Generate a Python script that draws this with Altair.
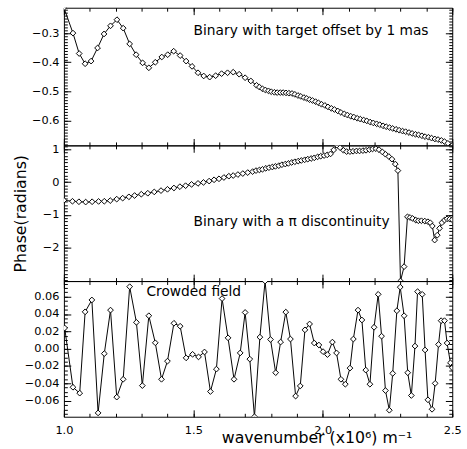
import altair as alt
import pandas as pd

# ---------------- data ----------------
top_k = [1.000, 1.035, 1.059, 1.082, 1.105, 1.130, 1.155, 1.180, 1.205, 1.229,
         1.254, 1.279, 1.304, 1.328, 1.353, 1.378, 1.401, 1.424, 1.449, 1.472,
         1.495, 1.518, 1.540, 1.563, 1.586, 1.609, 1.632, 1.654, 1.677, 1.700,
         1.722, 1.744, 1.755, 1.767, 1.778, 1.790, 1.801, 1.813, 1.824, 1.836,
         1.847, 1.858, 1.869, 1.881, 1.892, 1.904, 1.915, 1.927, 1.938, 1.949,
         1.960, 1.972, 1.983, 1.995,
         2.008, 2.020, 2.033, 2.045, 2.058, 2.070, 2.083, 2.095, 2.108, 2.120,
         2.133, 2.145, 2.158, 2.170, 2.183, 2.195, 2.208, 2.220, 2.233, 2.245,
         2.258, 2.270, 2.283, 2.295, 2.308, 2.320, 2.333, 2.345, 2.358, 2.370,
         2.383, 2.395, 2.408, 2.420, 2.433, 2.445, 2.458, 2.470, 2.483, 2.500]
top_v = [-0.213, -0.300, -0.370, -0.405, -0.396, -0.351, -0.303, -0.275, -0.254, -0.283,
         -0.337, -0.374, -0.402, -0.419, -0.400, -0.382, -0.374, -0.362, -0.377, -0.396,
         -0.414, -0.436, -0.447, -0.451, -0.446, -0.439, -0.436, -0.434, -0.441, -0.453,
         -0.464, -0.479, -0.485, -0.491, -0.495, -0.498, -0.501, -0.503, -0.504, -0.504,
         -0.504, -0.505, -0.506, -0.507, -0.510, -0.514, -0.517, -0.521, -0.524, -0.528,
         -0.531, -0.535, -0.539, -0.544,
         -0.548, -0.553, -0.558, -0.562, -0.567, -0.572, -0.577, -0.581, -0.585, -0.588,
         -0.592, -0.595, -0.598, -0.601, -0.605, -0.608, -0.611, -0.614, -0.618, -0.621,
         -0.624, -0.627, -0.630, -0.633, -0.636, -0.638, -0.641, -0.644, -0.647, -0.649,
         -0.652, -0.655, -0.657, -0.660, -0.663, -0.665, -0.668, -0.672, -0.678, -0.685]

mid_k = [1.000, 1.033, 1.058, 1.084, 1.109, 1.134, 1.156, 1.179, 1.204, 1.227,
         1.251, 1.273, 1.299, 1.324, 1.349, 1.375, 1.400, 1.425, 1.448, 1.470,
         1.493, 1.518, 1.539, 1.561, 1.580, 1.599, 1.618, 1.637, 1.654, 1.672,
         1.691, 1.710, 1.729, 1.742,
         1.755, 1.767, 1.780, 1.792, 1.805, 1.817, 1.830, 1.842, 1.855, 1.867,
         1.880, 1.892, 1.905, 1.917, 1.930, 1.942, 1.955, 1.967, 1.980, 1.992,
         2.005, 2.017, 2.030, 2.042, 2.055, 2.067, 2.080, 2.092, 2.105, 2.117,
         2.130, 2.142, 2.155, 2.167, 2.180, 2.192, 2.205, 2.217, 2.230, 2.242,
         2.255, 2.267, 2.280, 2.290, 2.300, 2.314, 2.327, 2.337, 2.347, 2.359,
         2.369, 2.381, 2.394, 2.406, 2.415, 2.423, 2.432, 2.442, 2.451, 2.460,
         2.470, 2.480, 2.490, 2.500]
mid_v = [-0.555, -0.585, -0.600, -0.610, -0.600, -0.590, -0.585, -0.565, -0.520, -0.490,
         -0.450, -0.410, -0.370, -0.340, -0.300, -0.260, -0.220, -0.180, -0.140, -0.110,
         -0.070, -0.040, -0.010, 0.030, 0.070, 0.100, 0.140, 0.180, 0.200, 0.230,
         0.260, 0.290, 0.320, 0.350,
         0.37, 0.39, 0.42, 0.44, 0.46, 0.48, 0.50, 0.53, 0.55, 0.57,
         0.60, 0.62, 0.64, 0.66, 0.68, 0.70, 0.72, 0.74, 0.77, 0.79,
         0.81, 0.83, 0.86, 0.98, 1.12, 1.05, 0.97, 0.93, 0.93, 0.94,
         0.95, 0.95, 0.96, 0.97, 0.99, 1.01, 1.02, 0.99, 0.92, 0.85,
         0.78, 0.70, 0.55, 0.35, -3.02, -2.58, -1.06, -1.08, -1.11, -1.16,
         -1.18, -1.18, -1.19, -1.21, -1.24, -1.34, -1.77, -1.62, -1.41, -1.24,
         -1.16, -1.12, -1.13, -1.15]

bot_k = [1.003, 1.035, 1.061, 1.082, 1.108, 1.132, 1.156, 1.180, 1.204, 1.229,
         1.254, 1.280, 1.303, 1.328, 1.353, 1.377, 1.400, 1.425, 1.449, 1.472,
         1.497, 1.520, 1.543, 1.566, 1.589, 1.611, 1.634, 1.657, 1.681, 1.700,
         1.718, 1.736, 1.757, 1.777, 1.798, 1.818, 1.837, 1.857, 1.875, 1.895,
         1.913, 1.931, 1.949, 1.967, 1.985, 2.001, 2.018, 2.037, 2.053, 2.070,
         2.087, 2.105, 2.118, 2.136, 2.151, 2.166, 2.182, 2.198, 2.214, 2.227,
         2.242, 2.257, 2.270, 2.286, 2.299, 2.314, 2.328, 2.342, 2.356, 2.366,
         2.384, 2.395, 2.406, 2.422, 2.434, 2.447, 2.457, 2.470, 2.480, 2.493,
         2.500]
bot_v = [0.0239, -0.0445, -0.0513, 0.0425, 0.0562, -0.0741, -0.0057, 0.0445, -0.0559, -0.0353,
         0.0715, 0.0304, -0.0426, 0.0380, 0.0068, -0.0353, -0.0144, 0.0293, 0.0259, -0.0106,
         -0.0065, -0.0095, -0.0038, -0.0494, -0.0236, 0.0578, 0.0125, -0.0353, -0.0049, 0.0418,
         -0.0120, -0.0785, 0.0133, 0.0780, 0.0106, -0.0277, 0.0076, 0.0422, 0.0111, -0.0547,
         -0.0430, 0.0217, 0.0285, 0.0065, 0.0042, -0.0034, -0.0068, 0.0076, -0.0049, -0.0353,
         -0.0410, -0.0224, 0.0111, 0.0445, 0.0331, -0.0247, -0.0410, 0.0247, 0.0627, 0.0144,
         -0.0483, -0.0710, -0.0285, 0.0437, 0.0710, 0.0380, -0.0277, -0.0540, 0.0030, 0.0658,
         0.0627, -0.0015, -0.0590, -0.0699, -0.0400, 0.0049, 0.0323, 0.0323, 0.0065, -0.0163,
         -0.0220]

labels = ["Binary with target offset by 1 mas", "Binary with a \u03c0 discontinuity", "Crowded field"]
label_k = [1.501, 1.501, 1.319]
label_v = [-0.294, -1.21, 0.0656]

x_major = [1.0, 1.5, 2.0, 2.5]
x_minor = [round(1.0 + 0.1 * i, 1) for i in range(16)]
top_major = [-0.6, -0.5, -0.4, -0.3]
top_minor = [round(-0.68 + 0.01 * i, 2) for i in range(47)]
mid_major = [-2, -1, 0, 1]
mid_minor = [round(-3.0 + 0.1 * i, 1) for i in range(42)]
bot_major = [-0.06, -0.04, -0.02, 0.0, 0.02, 0.04, 0.06]
bot_minor = [round(-0.075 + 0.005 * i, 3) for i in range(31)]

FONT = "DejaVu Sans"
MAJ = 7
MIN = 3.5


def axis(orient, values, size, labels=False, fmt=None, **kw):
    opts = dict(orient=orient, values=values, tickSize=size, offset=-size,
                labels=labels, domain=False, grid=False, ticks=True,
                tickColor="black", tickWidth=1)
    if labels:
        opts.update(labelFont=FONT, labelFontSize=11.5, labelColor="black",
                    labelFlush=False)
        if fmt:
            opts["format"] = fmt
    if "title" not in kw:
        kw["title"] = None
    opts.update(kw)
    return alt.Axis(**opts)


def panel(k, v, ydom, ymaj, ymin, yfmt, height, idx, bottom=False, ytitle=False):
    df = pd.DataFrame({"k": k, "v": v})
    xs = alt.Scale(domain=[1.0, 2.5], nice=False, zero=False)
    ys = alt.Scale(domain=ydom, nice=False, zero=False)

    xb_kw = {}
    if bottom:
        xb_kw = dict(title="wavenumber (x10\u2076) m\u207b\u00b9", titleFont=FONT,
                     titleFontSize=16, titleFontWeight="normal", titleColor="black",
                     titleX=257, titleY=33, titleAlign="center",
                     titleBaseline="alphabetic", labelPadding=8, labelAlign="center")
    yl_kw = dict(labelPadding=5, labelBaseline="middle")
    if ytitle:
        yl_kw.update(title="Phase(radians)", titleFont=FONT, titleFontSize=16,
                     titleFontWeight="normal", titleColor="black", titlePadding=14)

    line = alt.Chart(df).mark_line(color="black", strokeWidth=1, clip=True).encode(
        x=alt.X("k:Q", scale=xs, axis=axis("bottom", x_major, MAJ, labels=bottom,
                                          fmt=".1f", **xb_kw)),
        y=alt.Y("v:Q", scale=ys, axis=axis("left", ymaj, MAJ, labels=True,
                                          fmt=yfmt, **yl_kw)),
        order="k:Q",
    )
    pts = alt.Chart(df).mark_point(shape="diamond", filled=True, fill="white",
                                   stroke="black", strokeWidth=1, size=34,
                                   opacity=1, clip=True).encode(
        x=alt.X("k:Q", scale=xs, axis=axis("bottom", x_minor, MIN)),
        y=alt.Y("v:Q", scale=ys, axis=axis("left", ymin, MIN)),
    )
    g1 = alt.Chart(df).mark_line(opacity=0, clip=True).encode(
        x=alt.X("k:Q", scale=xs, axis=axis("top", x_major, MAJ)),
        y=alt.Y("v:Q", scale=ys, axis=axis("right", ymaj, MAJ)),
    )
    g2 = alt.Chart(df).mark_line(opacity=0, clip=True).encode(
        x=alt.X("k:Q", scale=xs, axis=axis("top", x_minor, MIN)),
        y=alt.Y("v:Q", scale=ys, axis=axis("right", ymin, MIN)),
    )
    ann = pd.DataFrame({"k": [label_k[idx]], "v": [label_v[idx]], "t": [labels[idx]]})
    txt = alt.Chart(ann).mark_text(align="left", baseline="middle", font=FONT,
                                   fontSize=14, color="black").encode(
        x=alt.X("k:Q", scale=xs, axis=None),
        y=alt.Y("v:Q", scale=ys, axis=None),
        text="t:N",
    )
    return alt.layer(line, pts, g1, g2, txt).resolve_axis(
        x="independent", y="independent").properties(width=395, height=height)


p1 = panel(top_k, top_v, [-0.685, -0.213], top_major, top_minor, ".1f", 140, 0)
p2 = panel(mid_k, mid_v, [-3.02, 1.12], mid_major, mid_minor, "d", 138, 1, ytitle=True)
p3 = panel(bot_k, bot_v, [-0.0785, 0.0780], bot_major, bot_minor, ".2f", 138, 2, bottom=True)

chart = alt.vconcat(p1, p2, p3, spacing=0, bounds="flush").properties(
    padding={"left": 12, "top": 3, "right": 5, "bottom": 2},
    background="white",
).configure_view(stroke="black", strokeWidth=1)

chart.save("out.html", embed_options={"renderer": "svg", "actions": False})
